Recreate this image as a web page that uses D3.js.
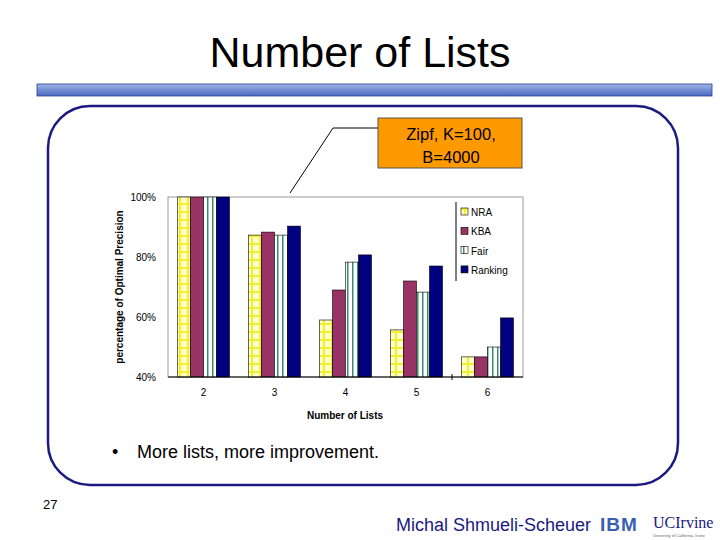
<!DOCTYPE html>
<html><head><meta charset="utf-8">
<script src="https://cdn.jsdelivr.net/npm/d3@7"></script>
<style>body{margin:0;background:#fff}</style></head>
<body><script>
const categories = ['2', '3', '4', '5', '6'];
const series = ['NRA', 'KBA', 'Fair', 'Ranking'];
const values = {
    NRA: [100, 87.3, 59, 55.7, 46.7],
    KBA: [100, 88.3, 69, 72, 46.7],
    Fair: [100, 87.3, 78.3, 68.3, 50],
    Ranking: [100, 90.3, 80.7, 77, 59.7]
};
const yTicks = [0.4, 0.6, 0.8, 1.0];

const svg = d3.select('body').append('svg').attr('width', 720).attr('height', 540)
    .style('font-family', 'Arial, Liberation Sans, sans-serif');

const defs = svg.append('defs');
const pNra = defs.append('pattern').attr('id', 'nra').attr('patternUnits', 'userSpaceOnUse')
    .attr('width', 8).attr('height', 8);
pNra.append('rect').attr('width', 8).attr('height', 8).attr('fill', '#ffffc8');
pNra.append('rect').attr('x', 0).attr('y', 3).attr('width', 8).attr('height', 2).attr('fill', '#f4ee30');
pNra.append('rect').attr('x', 3).attr('y', 0).attr('width', 2).attr('height', 8).attr('fill', '#f4ee30');
const pFair = defs.append('pattern').attr('id', 'fair').attr('patternUnits', 'userSpaceOnUse')
    .attr('width', 5).attr('height', 5);
pFair.append('rect').attr('width', 5).attr('height', 5).attr('fill', '#fff');
pFair.append('rect').attr('x', 2).attr('width', 1.5).attr('height', 5).attr('fill', '#3a8a70');
const fills = { NRA: 'url(#nra)', KBA: '#993366', Fair: 'url(#fair)', Ranking: '#000080' };
const grad = defs.append('linearGradient').attr('id', 'bar').attr('x1', 0).attr('x2', 0).attr('y1', 0).attr('y2', 1);
grad.append('stop').attr('offset', 0).attr('stop-color', '#9fb4e6');
grad.append('stop').attr('offset', 1).attr('stop-color', '#4a68c0');

// slide decoration
svg.append('text').attr('x', 360).attr('y', 67).attr('text-anchor', 'middle')
    .attr('font-size', 43).text('Number of Lists');
svg.append('rect').attr('x', 37).attr('y', 84).attr('width', 675).attr('height', 12)
    .attr('fill', 'url(#bar)').attr('stroke', '#2a3f8f').attr('stroke-width', 0.8);
svg.append('rect').attr('x', 48).attr('y', 106).attr('width', 630).attr('height', 379)
    .attr('rx', 42).attr('fill', 'none').attr('stroke', '#1a1a80').attr('stroke-width', 2.5);

// chart
const x = d3.scaleBand().domain(categories).range([168, 523]);
const xs = d3.scaleBand().domain(series).range([x.bandwidth() / 2 - 26, x.bandwidth() / 2 + 26]);
const y = d3.scaleLinear().domain([0.4, 1.0]).range([377, 197]);

svg.append('rect').attr('x', 168).attr('y', 197).attr('width', 355).attr('height', 180)
    .attr('fill', 'none').attr('stroke', '#999');

series.forEach(s => {
    svg.append('g').selectAll('rect').data(values[s]).join('rect')
        .attr('x', (d, i) => x(categories[i]) + xs(s))
        .attr('y', d => y(d / 100))
        .attr('width', xs.bandwidth())
        .attr('height', d => y(0.4) - y(d / 100))
        .attr('fill', fills[s]).attr('stroke', '#000').attr('stroke-width', 0.6);
});
svg.append('line').attr('x1', 168).attr('x2', 523).attr('y1', 377).attr('y2', 377).attr('stroke', '#000');
svg.append('line').attr('x1', 452).attr('x2', 452).attr('y1', 374).attr('y2', 380).attr('stroke', '#000');

svg.append('g').attr('transform', 'translate(0,377)')
    .call(d3.axisBottom(x).tickSize(0).tickPadding(12))
    .call(g => g.select('.domain').remove())
    .selectAll('text').attr('font-size', 10).attr('fill', '#000');
svg.append('g').attr('transform', 'translate(168,0)')
    .call(d3.axisLeft(y).tickValues(yTicks).tickFormat(d3.format('.0%')).tickSize(0).tickPadding(12))
    .call(g => g.select('.domain').remove())
    .selectAll('text').attr('font-size', 10).attr('fill', '#000');

svg.append('text').attr('x', 345).attr('y', 419).attr('text-anchor', 'middle')
    .attr('font-size', 10).attr('font-weight', 'bold').text('Number of Lists');
svg.append('text').attr('transform', 'translate(123,287) rotate(-90)').attr('text-anchor', 'middle')
    .attr('font-size', 10).attr('font-weight', 'bold').text('percentage of Optimal Precision');

// legend
svg.append('line').attr('x1', 456).attr('x2', 456).attr('y1', 202).attr('y2', 281).attr('stroke', '#000');
const leg = svg.append('g').selectAll('g').data(series).join('g')
    .attr('transform', (d, i) => `translate(461,${213 + i * 19.3})`);
leg.append('rect').attr('y', -5).attr('width', 7).attr('height', 7)
    .attr('fill', d => fills[d]).attr('stroke', '#000').attr('stroke-width', 0.6);
leg.append('text').attr('x', 10).attr('y', 3).attr('font-size', 10).text(d => d);

// callout
svg.append('polyline').attr('points', '290,193 333,128 378,128').attr('fill', 'none').attr('stroke', '#000');
svg.append('rect').attr('x', 378).attr('y', 118).attr('width', 144).attr('height', 50)
    .attr('fill', '#ff9900').attr('stroke', '#555');
svg.append('text').attr('x', 451).attr('y', 140).attr('text-anchor', 'middle').attr('font-size', 16.5).text('Zipf, K=100,');
svg.append('text').attr('x', 451).attr('y', 163).attr('text-anchor', 'middle').attr('font-size', 16.5).text('B=4000');

svg.append('text').attr('x', 112).attr('y', 458).attr('font-size', 18).text('•');
svg.append('text').attr('x', 137).attr('y', 458).attr('font-size', 18).text('More lists, more improvement.');
svg.append('text').attr('x', 43).attr('y', 509).attr('font-size', 13).text('27');
svg.append('text').attr('x', 396).attr('y', 531).attr('font-size', 18).attr('fill', '#1a1a80').text('Michal Shmueli-Scheuer');
svg.append('text').attr('x', 600).attr('y', 531).attr('font-size', 19).attr('font-weight', 'bold')
    .attr('fill', '#3a5fb0').attr('letter-spacing', 1).text('IBM');
svg.append('text').attr('x', 653).attr('y', 528).attr('font-size', 16).attr('font-family', 'Liberation Serif, serif')
    .attr('fill', '#1a1a80').text('UCIrvine');
svg.append('text').attr('x', 653).attr('y', 537).attr('font-size', 4).attr('fill', '#666').text('University of California, Irvine');
</script></body></html>
